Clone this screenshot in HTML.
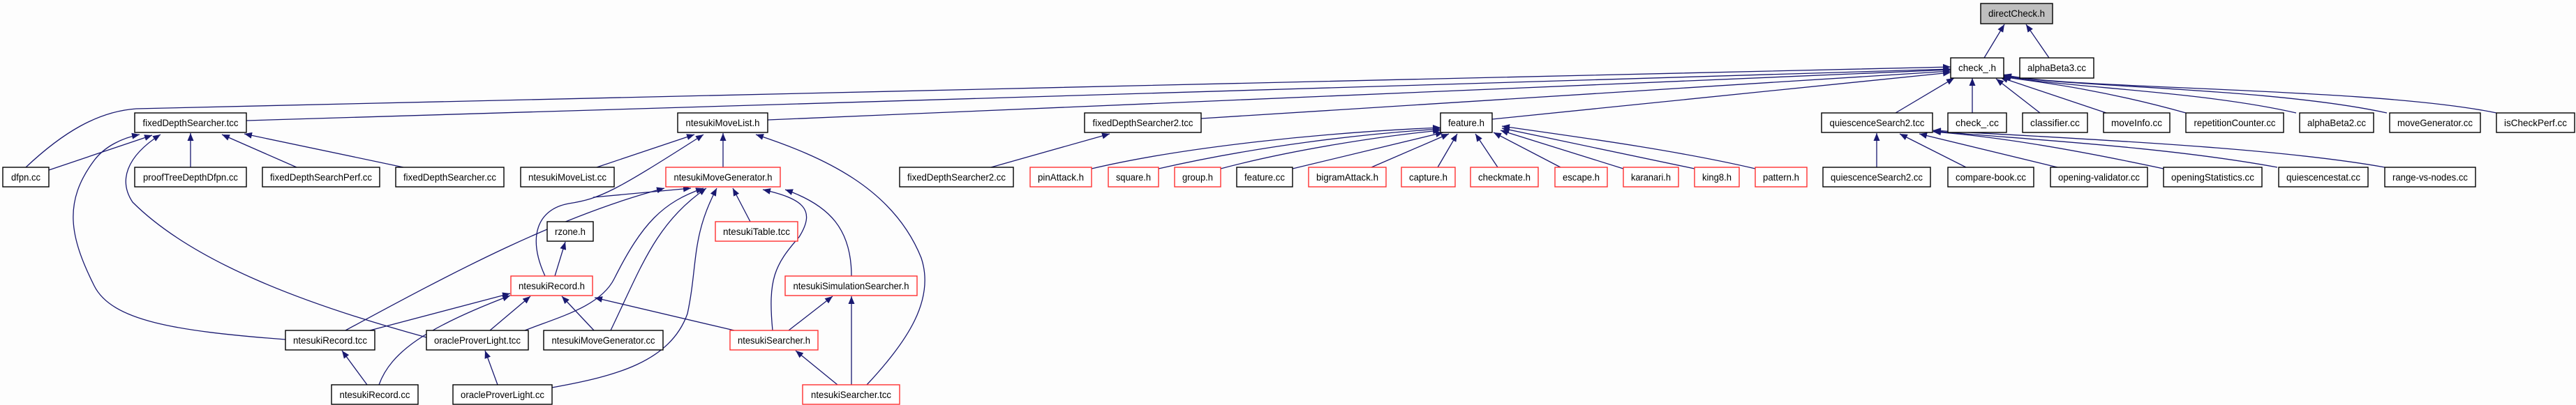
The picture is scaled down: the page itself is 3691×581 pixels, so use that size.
<!DOCTYPE html>
<html><head><meta charset="utf-8"><style>
html,body{margin:0;padding:0;background:#fdfdfd;width:3691px;height:581px;overflow:hidden}
svg{display:block}
text{font-family:"Liberation Sans",sans-serif;font-size:14px;fill:#000}
.n{fill:#fff;stroke:#000;stroke-width:1.4}
.r{fill:#fff;stroke:#ff3030;stroke-width:1.4}
.e{fill:none;stroke:#191970;stroke-width:1.3;marker-end:url(#a)}
</style></head><body>
<svg width="3691" height="581" viewBox="0 0 3691 581" xmlns="http://www.w3.org/2000/svg">
<defs><marker id="a" markerWidth="11" markerHeight="9" refX="11" refY="4.5" orient="auto" markerUnits="userSpaceOnUse"><path d="M0,0 L11,4.5 L0,9z" fill="#191970"/></marker></defs>

<!-- edges -->
<g>
<path class="e" d="M2843,83 L2872,35"/>
<path class="e" d="M2936,83 L2903,35"/>
<path class="e" d="M37,240 C90,190 140,160 195,156 L2795,96"/>
<path class="e" d="M353,173 L2795,99"/>
<path class="e" d="M1100,172 L2795,100"/>
<path class="e" d="M1721,170 L2795,102"/>
<path class="e" d="M2138,171 L2795,104"/>
<path class="e" d="M2716,162 L2800,112"/>
<path class="e" d="M2826,162 L2826,112"/>
<path class="e" d="M2923,162 L2860,113"/>
<path class="e" d="M3018,162 L2866,111"/>
<path class="e" d="M3132,162 C3000,125 2900,115 2868,110"/>
<path class="e" d="M3290,162 C3150,130 2950,125 2870,109"/>
<path class="e" d="M3420,162 C3250,125 2950,125 2871,108"/>
<path class="e" d="M3577,162 C3400,125 2950,128 2871,107"/>

<path class="e" d="M70,244 L218,194"/>
<path class="e" d="M273,240 L273,191"/>
<path class="e" d="M425,240 L318,193"/>
<path class="e" d="M578,240 L350,192"/>
<path class="e" d="M409,487 C250,475 160,460 135,410 C100,340 90,290 135,230 C150,210 175,198 200,193"/>
<path class="e" d="M611,484 C450,440 280,380 190,290 C170,260 180,225 230,193"/>

<path class="e" d="M855,240 L995,193"/>
<path class="e" d="M1036,240 L1036,191"/>
<path class="e" d="M781,396 C755,340 770,300 815,292 C860,285 880,275 1008,193"/>
<path class="e" d="M1242,552 C1300,490 1340,430 1320,370 C1280,270 1180,225 1083,193"/>

<path class="e" d="M495,474 C650,390 800,310 952,270"/>
<path class="e" d="M850,283 L990,270"/>
<path class="e" d="M752,474 C800,455 860,440 880,400 C920,320 950,290 1008,270"/>
<path class="e" d="M875,474 C920,380 940,320 1012,270"/>
<path class="e" d="M791,556 C880,540 960,520 985,450 C1000,380 990,340 1027,270"/>
<path class="e" d="M1075,318 L1050,270"/>
<path class="e" d="M1107,474 C1100,400 1110,380 1145,340 C1170,300 1150,285 1093,272"/>
<path class="e" d="M1220,396 C1220,330 1190,295 1125,272"/>

<path class="e" d="M795,396 L810,347"/>
<path class="e" d="M530,474 L731,421"/>
<path class="e" d="M543,552 C560,505 610,470 731,424"/>
<path class="e" d="M702,474 L760,425"/>
<path class="e" d="M851,474 L805,425"/>
<path class="e" d="M1052,474 L852,427"/>
<path class="e" d="M526,552 L490,503"/>
<path class="e" d="M713,552 L695,503"/>
<path class="e" d="M1130,474 L1193,425"/>
<path class="e" d="M1220,552 L1220,425"/>
<path class="e" d="M1200,552 L1140,503"/>
<path class="e" d="M1420,240 L1590,192"/>

<path class="e" d="M1564,242 C1700,210 1900,190 2064,183"/>
<path class="e" d="M1660,242 C1800,210 1950,192 2064,185"/>
<path class="e" d="M1749,242 C1850,215 1980,195 2064,187"/>
<path class="e" d="M1852,242 L2068,190"/>
<path class="e" d="M1965,240 L2076,192"/>
<path class="e" d="M2060,240 L2088,192"/>
<path class="e" d="M2146,240 L2114,192"/>
<path class="e" d="M2236,240 L2140,190"/>
<path class="e" d="M2326,242 L2150,187"/>
<path class="e" d="M2428,242 L2152,184"/>
<path class="e" d="M2515,242 C2400,215 2250,195 2152,181"/>

<path class="e" d="M2689,240 L2689,191"/>
<path class="e" d="M2817,240 L2722,192"/>
<path class="e" d="M2948,240 L2750,192"/>
<path class="e" d="M3100,242 C2950,210 2850,195 2770,189"/>
<path class="e" d="M3263,240 C3100,210 2900,200 2770,188"/>
<path class="e" d="M3417,240 C3250,210 2950,198 2770,187"/>
</g>

<!-- nodes -->
<g>
<rect x="2838" y="5" width="103" height="29" fill="#bfbfbf" stroke="#000" stroke-width="1.4"/><text x="2889.5" y="24" text-anchor="middle" textLength="81" lengthAdjust="spacingAndGlyphs">directCheck.h</text>
<rect class="n" x="2795" y="83" width="76" height="29"/><text x="2833" y="102" text-anchor="middle" textLength="54" lengthAdjust="spacingAndGlyphs">check_.h</text>
<rect class="n" x="2894" y="83" width="106" height="29"/><text x="2947" y="102" text-anchor="middle" textLength="84" lengthAdjust="spacingAndGlyphs">alphaBeta3.cc</text>

<rect class="n" x="193" y="162" width="160" height="28"/><text x="273" y="181" text-anchor="middle" textLength="137" lengthAdjust="spacingAndGlyphs">fixedDepthSearcher.tcc</text>
<rect class="n" x="971" y="162" width="129" height="28"/><text x="1035.5" y="181" text-anchor="middle" textLength="106" lengthAdjust="spacingAndGlyphs">ntesukiMoveList.h</text>
<rect class="n" x="1554" y="162" width="167" height="28"/><text x="1637.5" y="181" text-anchor="middle" textLength="144" lengthAdjust="spacingAndGlyphs">fixedDepthSearcher2.tcc</text>
<rect class="n" x="2064" y="162" width="74" height="28"/><text x="2101" y="181" text-anchor="middle" textLength="52" lengthAdjust="spacingAndGlyphs">feature.h</text>
<rect class="n" x="2610" y="162" width="159" height="28"/><text x="2689.5" y="181" text-anchor="middle" textLength="136" lengthAdjust="spacingAndGlyphs">quiescenceSearch2.tcc</text>
<rect class="n" x="2791" y="162" width="84" height="28"/><text x="2833" y="181" text-anchor="middle" textLength="62" lengthAdjust="spacingAndGlyphs">check_.cc</text>
<rect class="n" x="2898" y="162" width="93" height="28"/><text x="2944.5" y="181" text-anchor="middle" textLength="71" lengthAdjust="spacingAndGlyphs">classifier.cc</text>
<rect class="n" x="3014" y="162" width="95" height="28"/><text x="3061.5" y="181" text-anchor="middle" textLength="73" lengthAdjust="spacingAndGlyphs">moveInfo.cc</text>
<rect class="n" x="3132" y="162" width="140" height="28"/><text x="3202" y="181" text-anchor="middle" textLength="117" lengthAdjust="spacingAndGlyphs">repetitionCounter.cc</text>
<rect class="n" x="3295" y="162" width="106" height="28"/><text x="3348" y="181" text-anchor="middle" textLength="84" lengthAdjust="spacingAndGlyphs">alphaBeta2.cc</text>
<rect class="n" x="3424" y="162" width="130" height="28"/><text x="3489" y="181" text-anchor="middle" textLength="108" lengthAdjust="spacingAndGlyphs">moveGenerator.cc</text>
<rect class="n" x="3577" y="162" width="112" height="28"/><text x="3633" y="181" text-anchor="middle" textLength="90" lengthAdjust="spacingAndGlyphs">isCheckPerf.cc</text>

<rect class="n" x="4" y="240" width="66" height="28"/><text x="37" y="259" text-anchor="middle" textLength="42" lengthAdjust="spacingAndGlyphs">dfpn.cc</text>
<rect class="n" x="193" y="240" width="160" height="28"/><text x="273" y="259" text-anchor="middle" textLength="136" lengthAdjust="spacingAndGlyphs">proofTreeDepthDfpn.cc</text>
<rect class="n" x="376" y="240" width="168" height="28"/><text x="460" y="259" text-anchor="middle" textLength="146" lengthAdjust="spacingAndGlyphs">fixedDepthSearchPerf.cc</text>
<rect class="n" x="567" y="240" width="155" height="28"/><text x="644.5" y="259" text-anchor="middle" textLength="133" lengthAdjust="spacingAndGlyphs">fixedDepthSearcher.cc</text>
<rect class="n" x="746" y="240" width="134" height="28"/><text x="813" y="259" text-anchor="middle" textLength="112" lengthAdjust="spacingAndGlyphs">ntesukiMoveList.cc</text>
<rect class="r" x="954" y="240" width="164" height="28"/><text x="1036" y="259" text-anchor="middle" textLength="141" lengthAdjust="spacingAndGlyphs">ntesukiMoveGenerator.h</text>
<rect class="n" x="1289" y="240" width="163" height="28"/><text x="1370.5" y="259" text-anchor="middle" textLength="141" lengthAdjust="spacingAndGlyphs">fixedDepthSearcher2.cc</text>
<rect class="r" x="1476" y="240" width="88" height="28"/><text x="1520" y="259" text-anchor="middle" textLength="66" lengthAdjust="spacingAndGlyphs">pinAttack.h</text>
<rect class="r" x="1588" y="240" width="72" height="28"/><text x="1624" y="259" text-anchor="middle" textLength="50" lengthAdjust="spacingAndGlyphs">square.h</text>
<rect class="r" x="1683" y="240" width="66" height="28"/><text x="1716" y="259" text-anchor="middle" textLength="44" lengthAdjust="spacingAndGlyphs">group.h</text>
<rect class="n" x="1772" y="240" width="80" height="28"/><text x="1812" y="259" text-anchor="middle" textLength="58" lengthAdjust="spacingAndGlyphs">feature.cc</text>
<rect class="r" x="1875" y="240" width="111" height="28"/><text x="1930.5" y="259" text-anchor="middle" textLength="89" lengthAdjust="spacingAndGlyphs">bigramAttack.h</text>
<rect class="r" x="2008" y="240" width="77" height="28"/><text x="2046.5" y="259" text-anchor="middle" textLength="55" lengthAdjust="spacingAndGlyphs">capture.h</text>
<rect class="r" x="2107" y="240" width="97" height="28"/><text x="2155.5" y="259" text-anchor="middle" textLength="75" lengthAdjust="spacingAndGlyphs">checkmate.h</text>
<rect class="r" x="2228" y="240" width="75" height="28"/><text x="2265.5" y="259" text-anchor="middle" textLength="53" lengthAdjust="spacingAndGlyphs">escape.h</text>
<rect class="r" x="2326" y="240" width="79" height="28"/><text x="2365.5" y="259" text-anchor="middle" textLength="57" lengthAdjust="spacingAndGlyphs">karanari.h</text>
<rect class="r" x="2428" y="240" width="64" height="28"/><text x="2460" y="259" text-anchor="middle" textLength="42" lengthAdjust="spacingAndGlyphs">king8.h</text>
<rect class="r" x="2515" y="240" width="74" height="28"/><text x="2552" y="259" text-anchor="middle" textLength="52" lengthAdjust="spacingAndGlyphs">pattern.h</text>
<rect class="n" x="2612" y="240" width="154" height="28"/><text x="2689" y="259" text-anchor="middle" textLength="132" lengthAdjust="spacingAndGlyphs">quiescenceSearch2.cc</text>
<rect class="n" x="2791" y="240" width="123" height="28"/><text x="2852.5" y="259" text-anchor="middle" textLength="101" lengthAdjust="spacingAndGlyphs">compare-book.cc</text>
<rect class="n" x="2938" y="240" width="139" height="28"/><text x="3007.5" y="259" text-anchor="middle" textLength="117" lengthAdjust="spacingAndGlyphs">opening-validator.cc</text>
<rect class="n" x="3100" y="240" width="141" height="28"/><text x="3170.5" y="259" text-anchor="middle" textLength="119" lengthAdjust="spacingAndGlyphs">openingStatistics.cc</text>
<rect class="n" x="3265" y="240" width="128" height="28"/><text x="3329" y="259" text-anchor="middle" textLength="106" lengthAdjust="spacingAndGlyphs">quiescencestat.cc</text>
<rect class="n" x="3417" y="240" width="130" height="28"/><text x="3482" y="259" text-anchor="middle" textLength="108" lengthAdjust="spacingAndGlyphs">range-vs-nodes.cc</text>

<rect class="n" x="784" y="318" width="66" height="28"/><text x="817" y="337" text-anchor="middle" textLength="44" lengthAdjust="spacingAndGlyphs">rzone.h</text>
<rect class="r" x="1025" y="318" width="118" height="28"/><text x="1084" y="337" text-anchor="middle" textLength="96" lengthAdjust="spacingAndGlyphs">ntesukiTable.tcc</text>

<rect class="r" x="732" y="396" width="117" height="28"/><text x="790.5" y="415" text-anchor="middle" textLength="95" lengthAdjust="spacingAndGlyphs">ntesukiRecord.h</text>
<rect class="r" x="1125" y="396" width="189" height="28"/><text x="1219.5" y="415" text-anchor="middle" textLength="166" lengthAdjust="spacingAndGlyphs">ntesukiSimulationSearcher.h</text>

<rect class="n" x="409" y="474" width="128" height="28"/><text x="473" y="493" text-anchor="middle" textLength="106" lengthAdjust="spacingAndGlyphs">ntesukiRecord.tcc</text>
<rect class="n" x="611" y="474" width="146" height="28"/><text x="684" y="493" text-anchor="middle" textLength="124" lengthAdjust="spacingAndGlyphs">oracleProverLight.tcc</text>
<rect class="n" x="779" y="474" width="171" height="28"/><text x="864.5" y="493" text-anchor="middle" textLength="148" lengthAdjust="spacingAndGlyphs">ntesukiMoveGenerator.cc</text>
<rect class="r" x="1046" y="474" width="126" height="28"/><text x="1109" y="493" text-anchor="middle" textLength="104" lengthAdjust="spacingAndGlyphs">ntesukiSearcher.h</text>

<rect class="n" x="475" y="552" width="124" height="28"/><text x="537" y="571" text-anchor="middle" textLength="101" lengthAdjust="spacingAndGlyphs">ntesukiRecord.cc</text>
<rect class="n" x="649" y="552" width="142" height="28"/><text x="720" y="571" text-anchor="middle" textLength="120" lengthAdjust="spacingAndGlyphs">oracleProverLight.cc</text>
<rect class="r" x="1150" y="552" width="139" height="28"/><text x="1219.5" y="571" text-anchor="middle" textLength="115" lengthAdjust="spacingAndGlyphs">ntesukiSearcher.tcc</text>
</g>
</svg>
</body></html>
